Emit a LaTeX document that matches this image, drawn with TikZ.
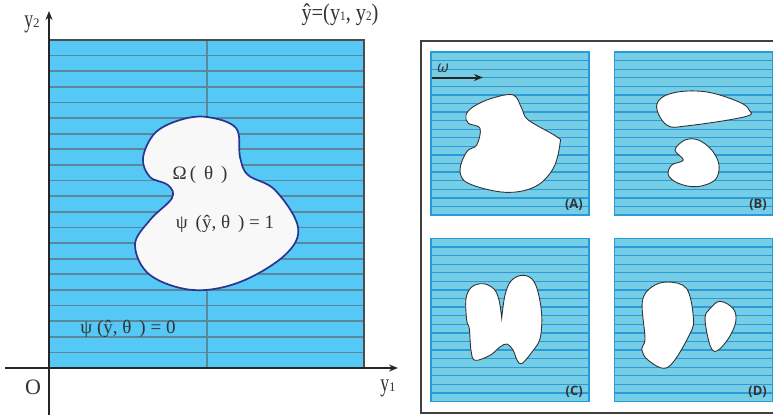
\documentclass[tikz,border=0pt]{standalone}
\usepackage{fontspec}
\setmainfont{Liberation Serif}
\newfontfamily\sansf{Open Sans}
\usetikzlibrary{arrows.meta}
\definecolor{leftfill}{HTML}{55C8F5}
\definecolor{leftline}{HTML}{5A879B}
\definecolor{blobline}{HTML}{283593}
\definecolor{blobfill}{HTML}{F8F8F8}
\definecolor{smallfill}{HTML}{76CDE6}
\definecolor{smallline}{HTML}{2A9AD8}
\definecolor{txt}{HTML}{333333}
\tikzset{
  leftstripe/.style={draw=leftline, line width=1.7pt},
  axisline/.style={draw=black!85, line width=1.6pt, -{Stealth[length=9pt,width=7pt]}},
  bigblob/.style={draw=blobline, line width=1.7pt, fill=blobfill},
  smallstripe/.style={draw=smallline, line width=1.3pt},
  smallblob/.style={draw=black!80, line width=0.9pt, fill=white},
  lbl/.style={text=txt, font=\fontsize{19}{19}\selectfont, inner sep=0pt},
  axlbl/.style={text=txt, font=\fontsize{22}{22}\selectfont, inner sep=0pt},
  plbl/.style={text=txt, font=\sansf\bfseries\fontsize{13}{13}\selectfont, inner sep=0pt, anchor=south east}
}
\newcommand{\sm}[1]{{\fontsize{13}{13}\selectfont #1}}
\newcommand{\ny}{\scalebox{0.8}[1.15]{y}}
\begin{document}
\begin{tikzpicture}[x=1pt,y=-1pt]
\useasboundingbox (0,0) rectangle (773,415);
% ---------- left panel ----------
\fill[leftfill] (49,40) rectangle (364,368);
\foreach \i in {1,...,20} \draw[leftstripe] (49,{40+\i*15.619}) -- (364,{40+\i*15.619});
\draw[draw=leftline, line width=1.2pt] (207,40) -- (207,368);
\draw[draw=black!70, line width=1.2pt] (49,40) -- (364,40) -- (364,368);
\draw[bigblob] plot[smooth cycle, tension=0.6] coordinates {
 (207,117) (236,128) (240,157) (248,175) (275,190) (298,227) (285,255)
 (240,282) (193,290) (150,275) (135,245) (150,220) (172,198) (168,185)
 (150,177) (143,158) (155,133) (180,120)};
\node[lbl] (omega) at (200,175) {Ω\,( \,θ\, )};
\node[lbl] (psione) at (225,224) {ψ \,(ŷ, θ\, ) = 1};
\node[lbl] (psizero) at (128,329) {ψ (ŷ, θ\, ) = 0};
\coordinate (xs) at (5,368);
\coordinate (xe) at (398,368);
\coordinate (ys) at (49,415);
\coordinate (ye) at (49,11);
\draw[axisline] (xs) -- (xe);
\draw[axisline] (ys) -- (ye);
\node[axlbl] (ylab2) at (32,24) {\ny\sm{2}};
\node[axlbl] (olab) at (33,387) {O};
\node[axlbl] (ylab1) at (388,388) {\ny\sm{1}};
\node[text=txt, font=\fontsize{24}{24}\selectfont, inner sep=0pt] (yhat) at (340,15) {\scalebox{0.85}[1]{ŷ=(y\sm{1}, y\sm{2})}};
% ---------- right frame ----------
\draw[draw=black!75, line width=1.2pt] (421,41) rectangle (776,413);
% panels
\foreach \px/\py in {431/52, 614.5/52, 431/238.5, 614.5/238.5}{
  \fill[smallfill] (\px,\py) rectangle ++(158,163);
  \foreach \i in {1,...,18} \draw[smallstripe] (\px,{\py+\i*8.58}) -- ++(158,0);
  \draw[draw=smallline, line width=1.2pt] (\px,\py) rectangle ++(158,163);
}
% panel A
\draw[smallblob] plot[smooth cycle, tension=0.6] coordinates {
 (513.3,95) (521.7,108.3) (528.3,120) (556.7,136.7) (560,143.3) (553.3,168.3)
 (535,186.7) (505,192.3) (468.3,183.3) (460,170) (466.7,151.7) (476.7,145)
 (480,128.3) (468.3,123.3) (466,115) (473.3,106.7) (491.7,98.3)};
\coordinate (ws) at (431.5,77.5);
\coordinate (we) at (483,77.5);
\draw[draw=black!85, line width=2pt, -{Stealth[length=9pt,width=7pt]}] (ws) -- (we);
\node[text=txt, font=\sansf\itshape\fontsize{16}{16}\selectfont, inner sep=0pt] (wlab) at (443,68) {ω};
\node[plbl] (la) at (583,211) {(A)};
% panel B
\draw[smallblob] plot[smooth cycle, tension=0.65] coordinates {
 (656.7,105) (666.7,125) (688.3,125.7) (745,116.7) (749,110) (738.3,101.7)
 (705,91.7) (671.7,93.3)};
\draw[smallblob] plot[smooth cycle, tension=0.6] coordinates {
 (685,140) (675,150) (683.3,160) (671.7,165) (668.3,175) (678.3,183.3)
 (696.7,186.7) (715,180) (719,165) (711.7,150) (698.3,140)};
\node[plbl] (lb) at (767,211) {(B)};
% panel C
\draw[smallblob] plot[smooth, tension=0.6] coordinates {
 (501.7,318) (505,295) (511,281) (521.7,275.3) (532,279) (538,292) (541.7,315.3)
 (540,338.7) (532,352) (521.7,363.7) (517,360) (513,350) (507,344) (500,347)
 (490,355.3) (475,360.3) (471,350.3) (469.3,328.7) (466.7,320.3) (466,298.7)
 (471.7,287) (483.3,283.7) (494,289) (499,300) (501.7,318)} -- cycle;
\node[plbl] (lc) at (583,397.5) {(C)};
% panel D
\draw[smallblob] plot[smooth cycle, tension=0.6] coordinates {
 (668.3,282) (686.7,288.7) (693.3,317) (690,333.7) (668.3,367) (648.3,360.3)
 (641.7,348.7) (645,338.7) (642.3,302) (651.7,287)};
\draw[smallblob] plot[smooth cycle, tension=0.6] coordinates {
 (720,301.3) (733.3,308.7) (735.7,322) (728.3,338.7) (716.7,351) (710,345.3)
 (705,318.7) (710,308.7)};
\node[plbl] (ld) at (767,397.5) {(D)};
\end{tikzpicture}
\end{document}
